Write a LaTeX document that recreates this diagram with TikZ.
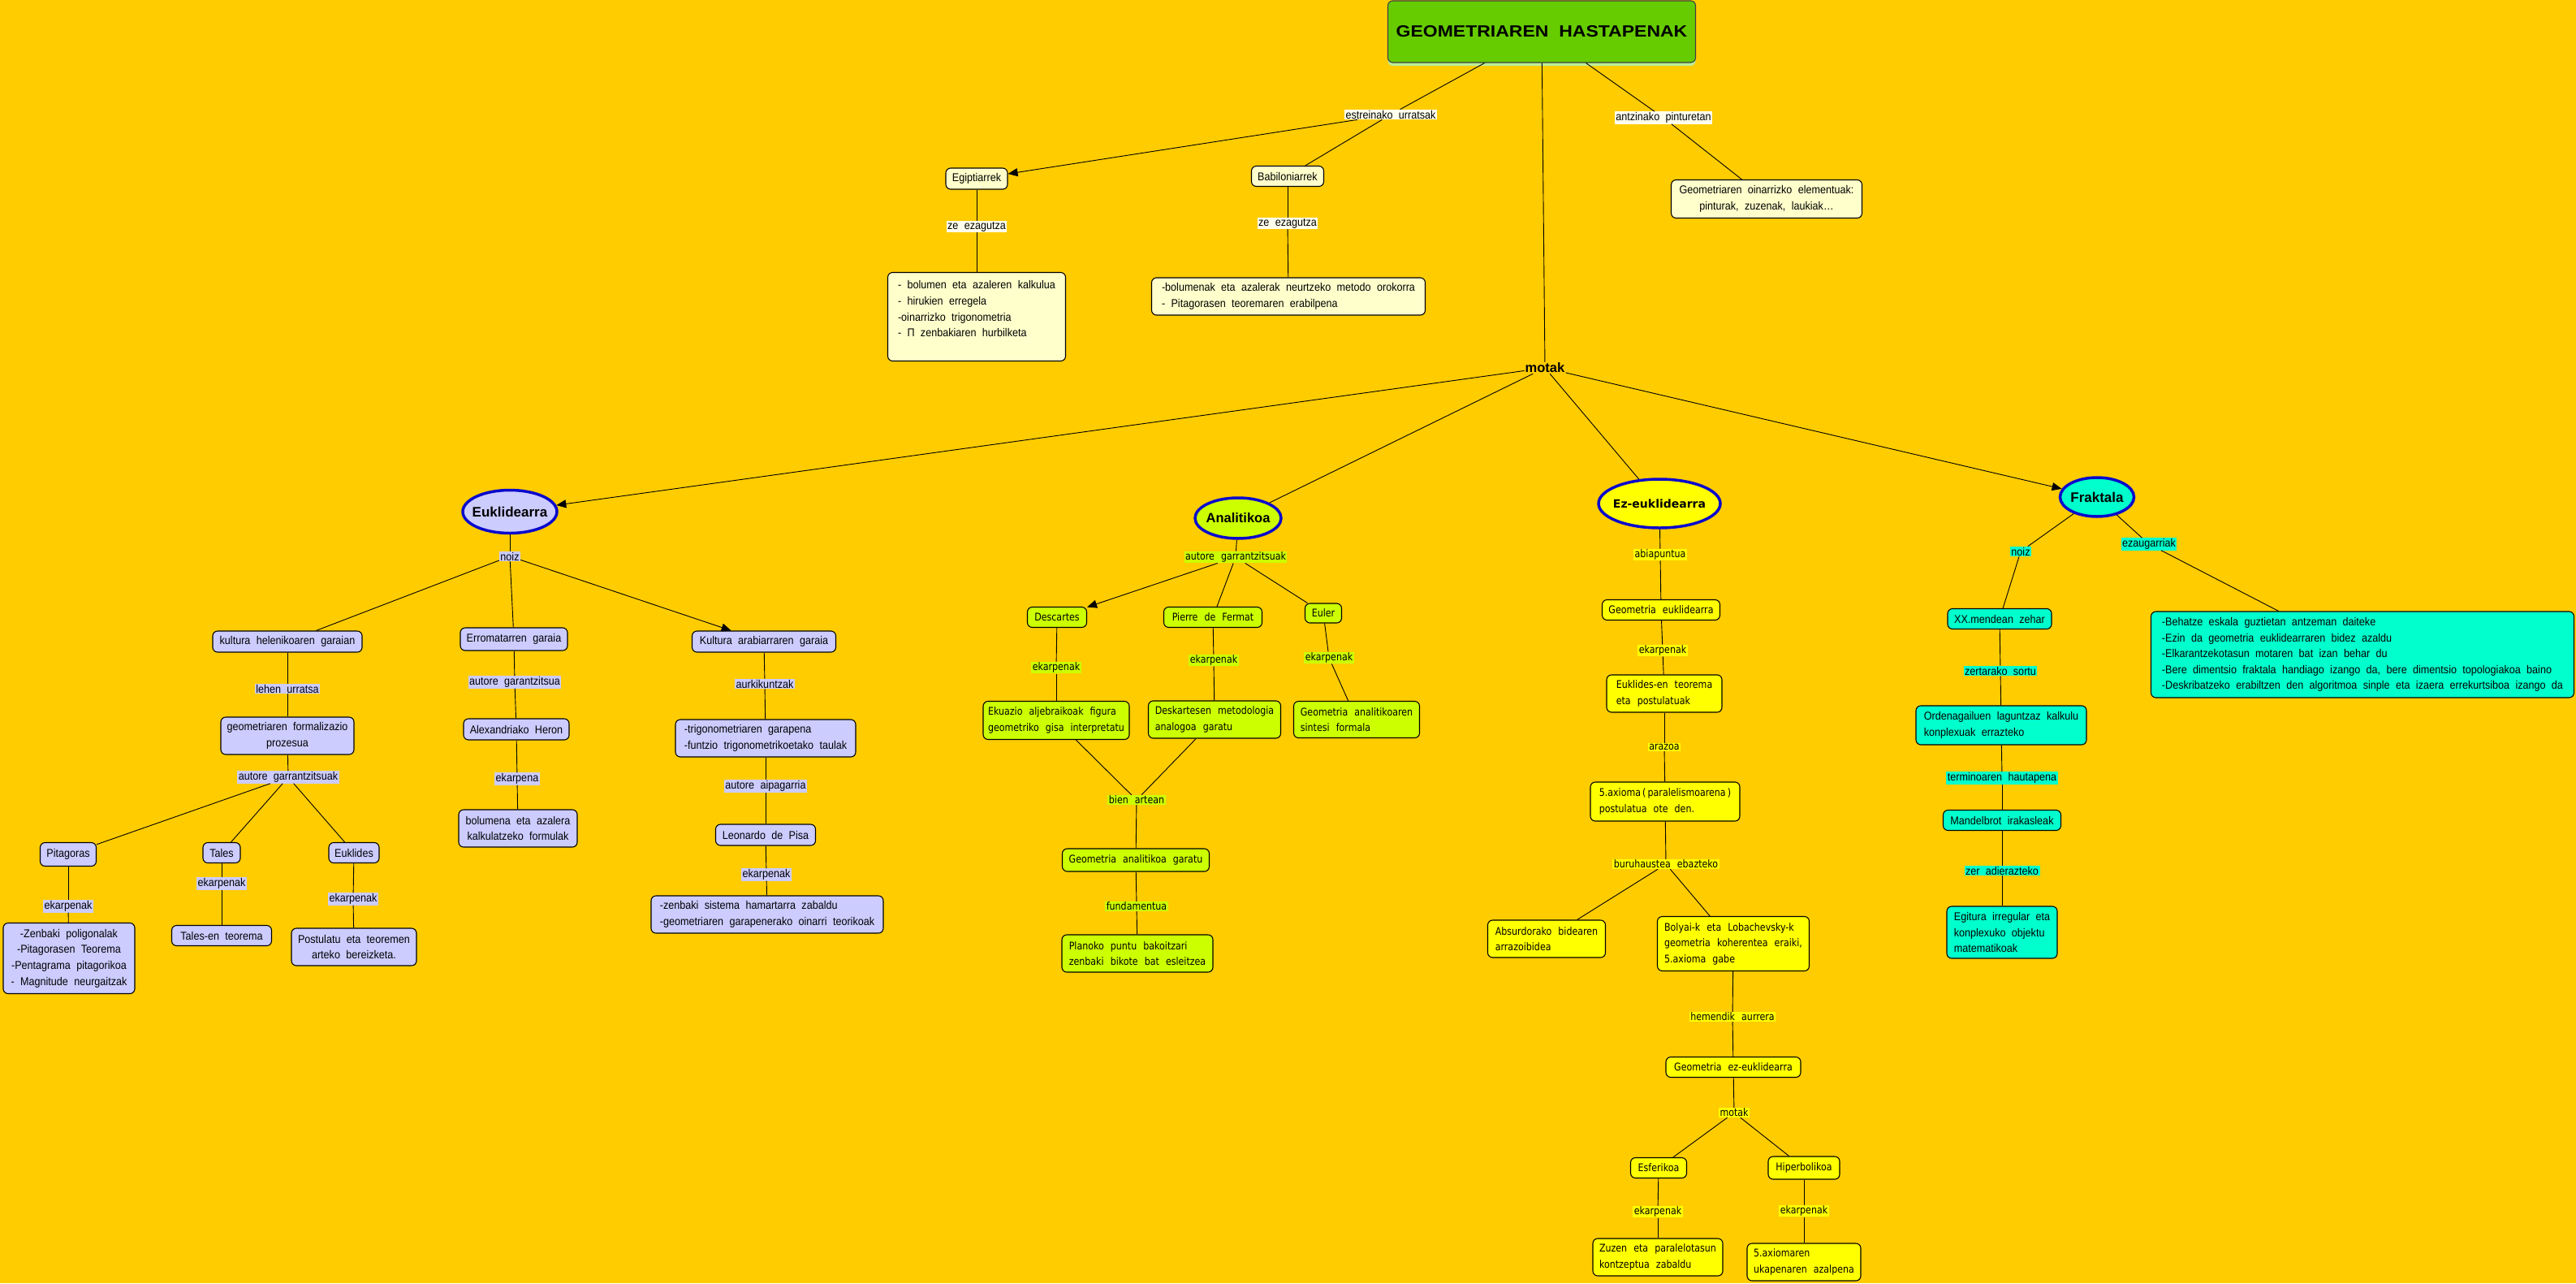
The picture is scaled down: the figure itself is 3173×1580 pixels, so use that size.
\documentclass[tikz,border=0pt]{standalone}
\usepackage{fontspec}
\setmainfont{Liberation Sans}
\newfontfamily\fA{Liberation Sans}[FakeStretch=0.9,WordSpace=2.1]
\newfontfamily\fV{DejaVu Sans}[FakeStretch=0.85,WordSpace=2.3]
\newfontfamily\fT{Liberation Sans}[FakeStretch=1.15,WordSpace=2]
\newfontfamily\fB{Liberation Sans}
\newfontfamily\fVB{DejaVu Sans}
\usetikzlibrary{shapes.geometric,arrows.meta,shadows}
\definecolor{bg}{HTML}{FFCC00}
\definecolor{cTop}{HTML}{FFFFCC}
\definecolor{cLbl}{HTML}{FFFFEE}
\definecolor{cEu}{HTML}{CCCCFF}
\definecolor{cAn}{HTML}{CCFF00}
\definecolor{cEz}{HTML}{FFFF00}
\definecolor{cFr}{HTML}{00FFCC}
\definecolor{cTitle}{HTML}{66CC00}
\definecolor{cShadow}{HTML}{BBEE99}
\definecolor{cRing}{HTML}{0A0ACC}
\tikzset{
 conn/.style={line width=0.9pt, draw=black},
 arr/.style={conn,-{Triangle[length=12pt,width=10pt]}},
 bx/.style={draw=black,line width=1.1pt,rounded corners=6pt,inner xsep=3pt,inner ysep=2pt,align=left},
 wh/.style 2 args={minimum width=#1,minimum height=#2},
 tA/.style={font=\fA\fontsize{14}{19.6}\selectfont},
 tV/.style={font=\fV\fontsize{13}{19.5}\selectfont},
 topbox/.style={bx,tA,fill=cTop},
 eubox/.style={bx,tA,fill=cEu},
 anbox/.style={bx,tV,fill=cAn},
 ezbox/.style={bx,tV,fill=cEz},
 frbox/.style={bx,tA,fill=cFr},
 lbl/.style={inner xsep=1.5pt,inner ysep=1pt},
 toplbl/.style={lbl,tA,fill=cLbl},
 eulbl/.style={lbl,tA,fill=cEu},
 anlbl/.style={lbl,tV,fill=cAn},
 ezlbl/.style={lbl,tV,fill=cEz},
 frlbl/.style={lbl,tA,fill=cFr},
 ring/.style={ellipse,draw=cRing,line width=3.5pt,inner sep=0pt},
 ringA/.style={ring,font=\fB\bfseries\fontsize{17}{20}\selectfont},
}
\begin{document}
\begin{tikzpicture}[x=1pt,y=-1pt]
\fill[bg] (0,0) rectangle (3173,1580);
\useasboundingbox (0,0) rectangle (3173,1580);

% ---------- top ----------
\node[bx,fill=cTitle,draw=black!75,wh={379}{76},align=center,
      font=\fT\bfseries\fontsize{20}{24}\selectfont,
      drop shadow={shadow xshift=0pt,shadow yshift=-4pt,fill=cShadow,opacity=1}]
      (title) at (1899,39) {GEOMETRIAREN HASTAPENAK};
\node[toplbl] (lEst) at (1713,141) {estreinako urratsak};
\node[topbox,wh={76}{26}] (egip) at (1203,220) {Egiptiarrek};
\node[topbox,wh={89}{25}] (babi) at (1586,217) {Babiloniarrek};
\node[toplbl] (lZeA) at (1203,279) {ze ezagutza};
\node[toplbl] (lZeB) at (1586,275) {ze ezagutza};
\node[topbox,wh={219}{109}] (egipC) at (1203,390) {- bolumen eta azaleren kalkulua\\- hirukien erregela\\-oinarrizko trigonometria\\- Π zenbakiaren hurbilketa\\\mbox{}};
\node[topbox,wh={337}{46}] (babiC) at (1587,365) {-bolumenak eta azalerak neurtzeko metodo orokorra\\- Pitagorasen teoremaren erabilpena};
\node[toplbl] (lAntz) at (2049,145) {antzinako pinturetan};
\node[topbox,wh={235}{47},align=center] (geomEl) at (2176,245) {Geometriaren oinarrizko elementuak:\\pinturak, zuzenak, laukiak…};
\node[font=\fB\bfseries\fontsize{16.5}{20}\selectfont,inner sep=1pt] (motak) at (1903,453) {motak};

% ---------- ellipses ----------
\node[ringA,fill=cEu,wh={116}{53}] (eukl) at (628,630) {\makebox[0pt]{Euklidearra}};
\node[ring,fill=cAn,wh={106}{50},font=\fB\bfseries\fontsize{16.5}{20}\selectfont] (anal) at (1525,638) {\makebox[0pt]{Analitikoa}};
\node[ring,fill=cEz,wh={150}{60},font=\fVB\bfseries\fontsize{14}{17}\selectfont] (ez) at (2044,620) {\makebox[0pt]{Ez-euklidearra}};
\node[ringA,fill=cFr,wh={91}{48}] (frak) at (2583,612) {\makebox[0pt]{Fraktala}};

% ---------- Euklidearra ----------
\node[eulbl] (lNoizA) at (628,685) {noiz};
\node[eubox,wh={184}{26}] (helen) at (354,790) {kultura helenikoaren garaian};
\node[eubox,wh={132}{28}] (erroma) at (633,787) {Erromatarren garaia};
\node[eubox,wh={177}{26}] (arab) at (941,790) {Kultura arabiarraren garaia};
\node[eulbl] (lLehen) at (354,848) {lehen urratsa};
\node[eubox,wh={164}{46},align=center] (formal) at (354,906) {geometriaren formalizazio\\prozesua};
\node[eulbl] (lAutG) at (355,957) {autore garrantzitsuak};
\node[eulbl] (lAutR) at (634,840) {autore garantzitsua};
\node[eubox,wh={130}{26}] (heron) at (636,898) {Alexandriako Heron};
\node[eulbl] (lEkpR) at (637,959) {ekarpena};
\node[eubox,wh={146}{46},align=center] (bolum) at (638,1020) {bolumena eta azalera\\kalkulatzeko formulak};
\node[eulbl] (lAurk) at (942,842) {aurkikuntzak};
\node[eubox,wh={222}{46}] (trigo) at (943,909) {-trigonometriaren garapena\\-funtzio trigonometrikoetako taulak};
\node[eulbl] (lAip) at (943,968) {autore aipagarria};
\node[eubox,wh={123}{26}] (leon) at (943,1028) {Leonardo de Pisa};
\node[eulbl] (lEkL) at (944,1077) {ekarpenak};
\node[eubox,wh={286}{46}] (zenb) at (945,1126) {-zenbaki sistema hamartarra zabaldu\\-geometriaren garapenerako oinarri teorikoak};
\node[eubox,wh={69}{29}] (pitag) at (84,1052) {Pitagoras};
\node[eubox,wh={46}{25}] (tales) at (273,1050) {Tales};
\node[eubox,wh={62}{25}] (euklides) at (436,1050) {Euklides};
\node[eulbl] (lEkP) at (84,1116) {ekarpenak};
\node[eubox,wh={162}{87},align=center] (pitagC) at (85,1180) {-Zenbaki poligonalak\\-Pitagorasen Teorema\\-Pentagrama pitagorikoa\\- Magnitude neurgaitzak};
\node[eulbl] (lEkT) at (273,1088) {ekarpenak};
\node[eubox,wh={123}{25}] (talesC) at (273,1152) {Tales-en teorema};
\node[eulbl] (lEkE) at (435,1107) {ekarpenak};
\node[eubox,wh={154}{46},align=center] (euklC) at (436,1166) {Postulatu eta teoremen\\arteko bereizketa.};

% ---------- Analitikoa ----------
\node[anlbl] (lAutA) at (1522,686) {autore garrantzitsuak};
\node[anbox,wh={73}{25}] (desc) at (1302,760) {Descartes};
\node[anbox,wh={121}{25}] (fermat) at (1494,760) {Pierre de Fermat};
\node[anbox,wh={45}{24}] (euler) at (1630,755) {Euler};
\node[anlbl] (lEkD) at (1301,822) {ekarpenak};
\node[anlbl] (lEkF) at (1495,813) {ekarpenak};
\node[anlbl] (lEkEu) at (1637,810) {ekarpenak};
\node[anbox,wh={180}{47}] (ekuaz) at (1301,887) {Ekuazio aljebraikoak figura\\geometriko gisa interpretatu};
\node[anbox,wh={163}{46}] (deskar) at (1496,886) {Deskartesen metodologia\\analogoa garatu};
\node[anbox,wh={155}{45}] (geoAn) at (1671,886) {Geometria analitikoaren\\sintesi formala};
\node[anlbl] (lBien) at (1400,985) {bien artean};
\node[anbox,wh={181}{28}] (garatu) at (1399,1059) {Geometria analitikoa garatu};
\node[anlbl] (lFund) at (1400,1116) {fundamentua};
\node[anbox,wh={186}{46}] (planoko) at (1401,1174) {Planoko puntu bakoitzari\\zenbaki bikote bat esleitzea};

% ---------- Ez-euklidearra ----------
\node[ezlbl] (lAbia) at (2045,683) {abiapuntua};
\node[ezbox,wh={145}{25}] (geoEu) at (2046,751) {Geometria euklidearra};
\node[ezlbl] (lEkEz) at (2048,801) {ekarpenak};
\node[ezbox,wh={142}{46}] (euklT) at (2050,854) {Euklides-en teorema\\eta postulatuak};
\node[ezlbl] (lArazo) at (2050,920) {arazoa};
\node[ezbox,wh={184}{48}] (axioma) at (2051,987) {5.axioma\,(\,paralelismoarena\,)\\postulatua ote den.};
\node[ezlbl] (lBuru) at (2052,1064) {buruhaustea ebazteko};
\node[ezbox,wh={145}{46}] (absurd) at (1905,1156) {Absurdorako bidearen\\arrazoibidea};
\node[ezbox,wh={187}{67}] (bolyai) at (2135,1162) {Bolyai-k eta Lobachevsky-k\\geometria koherentea eraiki,\\5.axioma gabe};
\node[ezlbl] (lHemen) at (2134,1252) {hemendik aurrera};
\node[ezbox,wh={166}{25}] (geoEz) at (2135,1314) {Geometria ez-euklidearra};
\node[ezlbl] (lMot2) at (2136,1370) {motak};
\node[ezbox,wh={69}{25}] (esfer) at (2043,1438) {Esferikoa};
\node[ezbox,wh={88}{28}] (hiper) at (2222,1438) {Hiperbolikoa};
\node[ezlbl] (lEkEs) at (2042,1492) {ekarpenak};
\node[ezlbl] (lEkH) at (2222,1491) {ekarpenak};
\node[ezbox,wh={160}{46}] (zuzen) at (2042,1548) {Zuzen eta paralelotasun\\kontzeptua zabaldu};
\node[ezbox,wh={140}{46}] (axiomaren) at (2222,1554) {5.axiomaren\\ukapenaren azalpena};

% ---------- Fraktala ----------
\node[frlbl] (lNoizB) at (2489,679) {noiz};
\node[frlbl] (lEzaug) at (2647,670) {ezaugarriak};
\node[frbox,wh={128}{25}] (xx) at (2463,762) {XX.mendean zehar};
\node[frbox,wh={521}{106}] (behatze) at (2910,806) {-Behatze eskala guztietan antzeman daiteke\\-Ezin da geometria euklidearraren bidez azaldu\\-Elkarantzekotasun motaren bat izan behar du\\-Bere dimentsio fraktala handiago izango da, bere dimentsio topologiakoa baino\\-Deskribatzeko erabiltzen den algoritmoa sinple eta izaera errekurtsiboa izango da};
\node[frlbl] (lZert) at (2464,826) {zertarako sortu};
\node[frbox,wh={210}{48}] (orden) at (2465,893) {Ordenagailuen laguntzaz kalkulu\\konplexuak errazteko};
\node[frlbl] (lTerm) at (2466,958) {terminoaren hautapena};
\node[frbox,wh={145}{25}] (mandel) at (2466,1010) {Mandelbrot irakasleak};
\node[frlbl] (lZer) at (2466,1072) {zer adierazteko};
\node[frbox,wh={136}{64}] (egitura) at (2466,1148) {Egitura irregular eta\\konplexuko objektu\\matematikoak};

% ---------- connectors ----------
\draw[conn] (title) -- (lEst);
\draw[arr] (lEst) -- (egip);
\draw[conn] (lEst) -- (babi);
\draw[conn] (egip) -- (lZeA); \draw[conn] (lZeA) -- (egipC);
\draw[conn] (babi) -- (lZeB); \draw[conn] (lZeB) -- (babiC);
\draw[conn] (title) -- (lAntz); \draw[conn] (lAntz) -- (geomEl);
\draw[conn] (title) -- (motak);
\draw[arr] (motak) -- (eukl);
\draw[conn] (motak) -- (anal);
\draw[conn] (motak) -- (ez);
\draw[arr] (motak) -- (frak);

\draw[conn] (eukl) -- (lNoizA);
\draw[conn] (lNoizA) -- (helen);
\draw[conn] (lNoizA) -- (erroma);
\draw[arr] (lNoizA) -- (arab);
\draw[conn] (helen) -- (lLehen); \draw[conn] (lLehen) -- (formal);
\draw[conn] (formal) -- (lAutG);
\draw[conn] (lAutG) -- (pitag);
\draw[conn] (lAutG) -- (tales);
\draw[conn] (lAutG) -- (euklides);
\draw[conn] (pitag) -- (lEkP); \draw[conn] (lEkP) -- (pitagC);
\draw[conn] (tales) -- (lEkT); \draw[conn] (lEkT) -- (talesC);
\draw[conn] (euklides) -- (lEkE); \draw[conn] (lEkE) -- (euklC);
\draw[conn] (erroma) -- (lAutR); \draw[conn] (lAutR) -- (heron);
\draw[conn] (heron) -- (lEkpR); \draw[conn] (lEkpR) -- (bolum);
\draw[conn] (arab) -- (lAurk); \draw[conn] (lAurk) -- (trigo);
\draw[conn] (trigo) -- (lAip); \draw[conn] (lAip) -- (leon);
\draw[conn] (leon) -- (lEkL); \draw[conn] (lEkL) -- (zenb);

\draw[conn] (anal) -- (lAutA);
\draw[arr] (lAutA) -- (desc);
\draw[conn] (lAutA) -- (fermat);
\draw[conn] (lAutA) -- (euler);
\draw[conn] (desc) -- (lEkD); \draw[conn] (lEkD) -- (ekuaz);
\draw[conn] (fermat) -- (lEkF); \draw[conn] (lEkF) -- (deskar);
\draw[conn] (euler) -- (lEkEu); \draw[conn] (lEkEu) -- (geoAn);
\draw[conn] (ekuaz) -- (lBien); \draw[conn] (deskar) -- (lBien);
\draw[conn] (lBien) -- (garatu);
\draw[conn] (garatu) -- (lFund); \draw[conn] (lFund) -- (planoko);

\draw[conn] (ez) -- (lAbia); \draw[conn] (lAbia) -- (geoEu);
\draw[conn] (geoEu) -- (lEkEz); \draw[conn] (lEkEz) -- (euklT);
\draw[conn] (euklT) -- (lArazo); \draw[conn] (lArazo) -- (axioma);
\draw[conn] (axioma) -- (lBuru);
\draw[conn] (lBuru) -- (absurd);
\draw[conn] (lBuru) -- (bolyai);
\draw[conn] (bolyai) -- (lHemen); \draw[conn] (lHemen) -- (geoEz);
\draw[conn] (geoEz) -- (lMot2);
\draw[conn] (lMot2) -- (esfer);
\draw[conn] (lMot2) -- (hiper);
\draw[conn] (esfer) -- (lEkEs); \draw[conn] (lEkEs) -- (zuzen);
\draw[conn] (hiper) -- (lEkH); \draw[conn] (lEkH) -- (axiomaren);

\draw[conn] (frak) -- (lNoizB); \draw[conn] (lNoizB) -- (xx);
\draw[conn] (frak) -- (lEzaug); \draw[conn] (lEzaug) -- (behatze);
\draw[conn] (xx) -- (lZert); \draw[conn] (lZert) -- (orden);
\draw[conn] (orden) -- (lTerm); \draw[conn] (lTerm) -- (mandel);
\draw[conn] (mandel) -- (lZer); \draw[conn] (lZer) -- (egitura);
\end{tikzpicture}
\end{document}
